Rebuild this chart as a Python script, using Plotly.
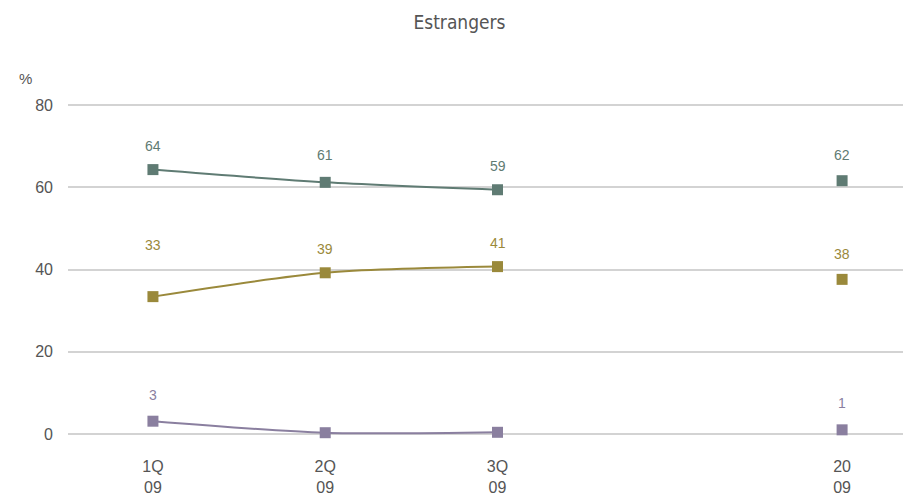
import plotly.graph_objects as go

# ---- data ----
quarters = ["1Q<br>09", "2Q<br>09", "3Q<br>09"]
annual = ["20<br>09"]
series_names = ["Serie A", "Serie B", "Serie C"]
q_values_a = [64.3, 61.2, 59.4]
q_values_b = [33.4, 39.2, 40.7]
q_values_c = [3.1, 0.3, 0.4]
y_values_a = [61.6]
y_values_b = [37.6]
y_values_c = [1.0]
q_labels_a = ["64", "61", "59"]
q_labels_b = ["33", "39", "41"]
q_labels_c = ["3", "", ""]
y_labels_a = ["62"]
y_labels_b = ["38"]
y_labels_c = ["1"]
y_ticks = [0, 20, 40, 60, 80]

# ---- styling ----
colors = ["#5f7b73", "#9a893b", "#8a7f9f"]
q_x = [0, 1, 2]
a_x = [4]
label_shift_q = [[24, 27, 24], [52, 24, 24], [26, 24, 24]]
label_shift_a = [26, 25, 27]
FONT = "Liberation Sans, Arial"

fig = go.Figure()
q_vals = [q_values_a, q_values_b, q_values_c]
a_vals = [y_values_a, y_values_b, y_values_c]
q_labs = [q_labels_a, q_labels_b, q_labels_c]
a_labs = [y_labels_a, y_labels_b, y_labels_c]

annotations = []
for i in range(3):
    fig.add_trace(go.Scatter(
        x=q_x, y=q_vals[i], mode="lines+markers", name=series_names[i],
        line=dict(color=colors[i], width=2, shape="spline", smoothing=0.8),
        marker=dict(symbol="square", size=11, color=colors[i]),
        cliponaxis=False, showlegend=False, hoverinfo="skip"))
    fig.add_trace(go.Scatter(
        x=a_x, y=a_vals[i], mode="markers", name=series_names[i],
        marker=dict(symbol="square", size=11, color=colors[i]),
        cliponaxis=False, showlegend=False, hoverinfo="skip"))
    for j, (xx, yy, tt) in enumerate(zip(q_x, q_vals[i], q_labs[i])):
        if tt:
            annotations.append(dict(x=xx, y=yy, text=tt, showarrow=False,
                                    yshift=label_shift_q[i][j],
                                    font=dict(color=colors[i], size=14, family=FONT)))
    for xx, yy, tt in zip(a_x, a_vals[i], a_labs[i]):
        annotations.append(dict(x=xx, y=yy, text=tt, showarrow=False,
                                yshift=label_shift_a[i],
                                font=dict(color=colors[i], size=14, family=FONT)))

annotations.append(dict(x=0, y=1, xref="paper", yref="paper", xanchor="center", yanchor="middle",
                        xshift=-43, yshift=25, text="%", showarrow=False,
                        font=dict(color="#555555", size=15, family=FONT)))

fig.update_layout(
    width=903, height=488,
    margin=dict(l=60, r=0, t=95, b=54),
    paper_bgcolor="white", plot_bgcolor="white",
    title=dict(text="Estrangers", x=0.5, xanchor="center", y=0.971, yanchor="middle",
               font=dict(family="DejaVu Sans Condensed, Liberation Sans Narrow, sans-serif", size=19, color="#555555")),
    xaxis=dict(range=[-0.493, 4.4], tickmode="array", tickvals=q_x + a_x, ticktext=quarters + annual,
               showgrid=False, zeroline=False, showline=False, ticks="", ticklabelstandoff=19,
               tickfont=dict(family=FONT, size=16, color="#555555")),
    yaxis=dict(range=[-0.5, 80.5], tickvals=y_ticks, showgrid=True, gridcolor="#d3d3d3", gridwidth=2,
               zeroline=False, showline=False, ticks="", ticklabelstandoff=14,
               tickfont=dict(family=FONT, size=16, color="#555555")),
    annotations=annotations,
)

fig.write_html("out.html")
